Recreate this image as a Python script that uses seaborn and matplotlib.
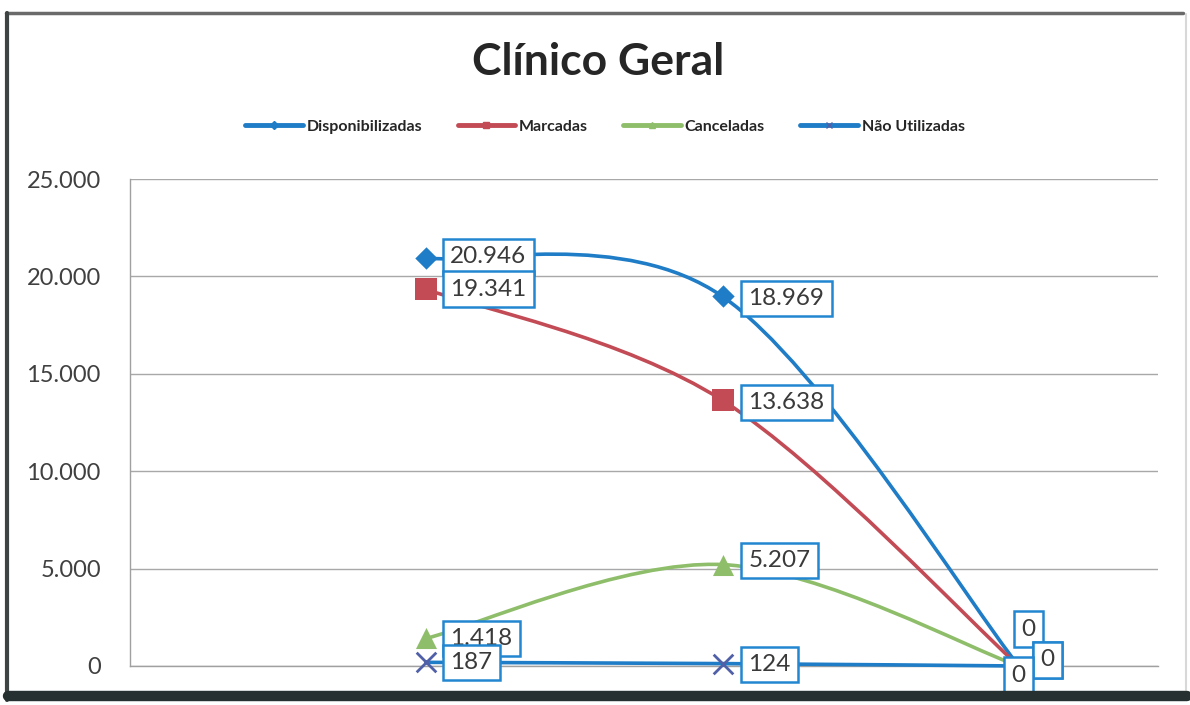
import matplotlib
matplotlib.use("Agg")
import matplotlib.pyplot as plt
from matplotlib.path import Path
from matplotlib.patches import PathPatch
from matplotlib.lines import Line2D
import seaborn as sns
import pandas as pd

# ---- data -------------------------------------------------------------
categorias = ["1", "2", "3"]
posicoes = [1, 2, 3]
series = ["Disponibilizadas", "Marcadas", "Canceladas", "Não Utilizadas"]
disponibilizadas = [20946, 18969, 0]
marcadas = [19341, 13638, 0]
canceladas = [1418, 5207, 0]
nao_utilizadas = [187, 124, 0]
valores = [disponibilizadas, marcadas, canceladas, nao_utilizadas]
y_ticks = [0, 5000, 10000, 15000, 20000, 25000]

# ---- style ------------------------------------------------------------
sns.set_theme(style="white")
plt.rcParams["font.family"] = ["Lato", "DejaVu Sans"]

cores_linha = {"Disponibilizadas": "#1F7CC6", "Marcadas": "#C24B55",
               "Canceladas": "#8FBE6A", "Não Utilizadas": "#1F7CC6"}
cores_marc = {"Disponibilizadas": "#1F7CC6", "Marcadas": "#C24B55",
              "Canceladas": "#8FBE6A", "Não Utilizadas": "#4F5FA8"}
marcadores = {"Disponibilizadas": "D", "Marcadas": "s",
              "Canceladas": "^", "Não Utilizadas": "x"}
tamanhos = {"Disponibilizadas": 130, "Marcadas": 260,
            "Canceladas": 230, "Não Utilizadas": 200}

fig = plt.figure(figsize=(11.9, 7.05), dpi=100)
fig.patch.set_facecolor("white")
ax = fig.add_axes([130 / 1190, 1 - 666 / 705, 1028 / 1190, 487 / 705])
ax.set_xlim(0, 3.47)
ax.set_ylim(0, 25000)


def curva_suave(xs, ys):
    """Bezier path through the points (Catmull-Rom style smoothing)."""
    pts = list(zip(xs, ys))
    n = len(pts)
    verts = [pts[0]]
    codes = [Path.MOVETO]
    for i in range(n - 1):
        p0 = pts[i - 1] if i > 0 else pts[i]
        p1 = pts[i]
        p2 = pts[i + 1]
        p3 = pts[i + 2] if i + 2 < n else pts[i + 1]
        c1 = (p1[0] + (p2[0] - p0[0]) / 6, p1[1] + (p2[1] - p0[1]) / 6)
        c2 = (p2[0] - (p3[0] - p1[0]) / 6, p2[1] - (p3[1] - p1[1]) / 6)
        verts += [c1, c2, p2]
        codes += [Path.CURVE4] * 3
    return Path(verts, codes)


# smoothed lines
for nome, vals in zip(series, valores):
    ax.add_patch(PathPatch(curva_suave(posicoes, vals), fill=False,
                           edgecolor=cores_linha[nome], lw=2.6,
                           capstyle="round", joinstyle="round", zorder=3,
                           clip_on=False))

# markers
df = pd.DataFrame({
    "pos": posicoes * len(series),
    "valor": [v for vals in valores for v in vals],
    "serie": [s for s in series for _ in posicoes],
})
df_m = df[df["valor"] > 0]
for nome in series:
    sub = df_m[df_m["serie"] == nome]
    kw = dict(linewidth=2.0) if marcadores[nome] == "x" else dict(linewidth=0)
    sns.scatterplot(data=sub, x="pos", y="valor", color=cores_marc[nome],
                    marker=marcadores[nome], s=tamanhos[nome], legend=False,
                    ax=ax, zorder=4, clip_on=False, **kw)

# data labels (offsets in pixels from each point)
deslocamentos = {
    "Disponibilizadas": [(24, 1), (26, -2), (10, 37)],
    "Marcadas": [(24, 0), (26, -2), (29, 6)],
    "Canceladas": [(24, 0), (26, 4), (29, 6)],
    "Não Utilizadas": [(24, 0), (26, -1), (0, -9)],
}
for nome, vals in zip(series, valores):
    for i, (x, v) in enumerate(zip(posicoes, vals)):
        dx, dy = deslocamentos[nome][i]
        rotulo = f"{v:,}".replace(",", ".")
        ha = "center" if v == 0 else "left"
        ax.annotate(rotulo, (x, v), xytext=(dx, dy), textcoords="offset pixels",
                    ha=ha, va="center", fontsize=17.5, color="#3A3A3A",
                    zorder=6, annotation_clip=False,
                    bbox=dict(boxstyle="square,pad=0.3", fc="white",
                              ec="#2287D0", lw=1.8))

# axes look
ax.set_yticks(y_ticks)
ax.set_yticklabels([f"{t:,}".replace(",", ".") for t in y_ticks],
                   fontsize=17, color="#404040")
ax.set_xticks([])
ax.set_xlabel("")
ax.set_ylabel("")
ax.tick_params(axis="y", length=0, pad=21)
ax.grid(axis="y", color="#A8A8A8", lw=1.0)
ax.set_axisbelow(True)
for lado in ["top", "right"]:
    ax.spines[lado].set_visible(False)
ax.spines["left"].set_color("#A0A0A0")
ax.spines["left"].set_linewidth(1.0)
ax.spines["bottom"].set_color("#A0A0A0")
ax.spines["bottom"].set_linewidth(1.0)

# title and legend
fig.text(598 / 1190, 1 - 62 / 705, "Clínico Geral", ha="center", va="center",
         fontsize=32, fontweight="bold", color="#262626")
handles = [Line2D([], [], color=cores_linha[n], lw=3.5, marker=marcadores[n],
                  markersize=4, markerfacecolor=cores_marc[n],
                  markeredgecolor=cores_marc[n]) for n in series]
fig.legend(handles, series, loc="center", ncol=4,
           bbox_to_anchor=(605 / 1190, 1 - 127 / 705), frameon=False,
           handlelength=3.6, handletextpad=0.25,
           columnspacing=2.2, prop={"weight": "bold", "size": 11.5})

# outer frame of the chart
fr = dict(transform=fig.transFigure, clip_on=False)
fig.add_artist(Line2D([6 / 1190, 1183 / 1190], [1 - 13 / 705, 1 - 13 / 705],
                      color="#6A6A6A", lw=2.5, **fr))
fig.add_artist(Line2D([7 / 1190, 7 / 1190], [1 - 13 / 705, 1 - 700 / 705],
                      color="#3E4444", lw=3.0, **fr))
fig.add_artist(Line2D([1186 / 1190, 1186 / 1190], [1 - 14 / 705, 1 - 690 / 705],
                      color="#D8D8D8", lw=1.5, **fr))
fig.add_artist(Line2D([8 / 1190, 1187 / 1190], [1 - 696 / 705, 1 - 696 / 705],
                      color="#263030", lw=7.5, **fr))

fig.savefig("out.png", dpi=100, facecolor="white")
